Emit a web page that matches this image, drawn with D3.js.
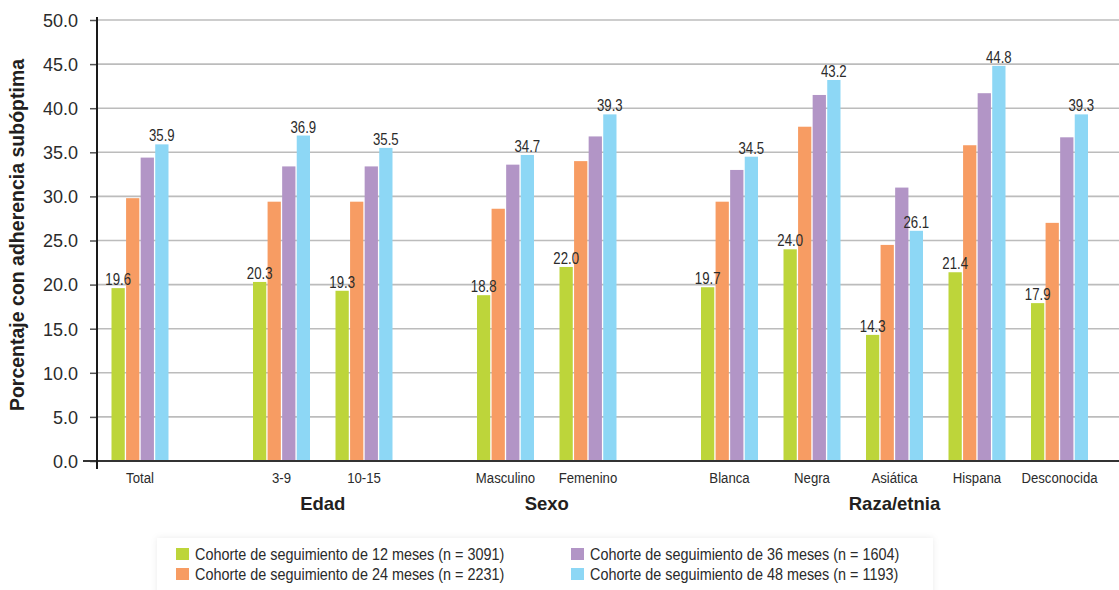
<!DOCTYPE html>
<html><head><meta charset="utf-8">
<script src="https://cdn.jsdelivr.net/npm/d3@7"></script>
<style>
html,body{margin:0;padding:0;background:#fff;}
svg{display:block;}
</style></head>
<body>
<svg id="chart" width="1119" height="590"></svg>
<script>
// ---- data ----
const categories = ["Total","3-9","10-15","Masculino","Femenino","Blanca","Negra","Asiática","Hispana","Desconocida"];
const categoryGroup = ["", "Edad","Edad","Sexo","Sexo","Raza/etnia","Raza/etnia","Raza/etnia","Raza/etnia","Raza/etnia"];
const groups = ["", "Edad", "Sexo", "Raza/etnia"];
const seriesNames = [
  "Cohorte de seguimiento de 12 meses (n = 3091)",
  "Cohorte de seguimiento de 24 meses (n = 2231)",
  "Cohorte de seguimiento de 36 meses (n = 1604)",
  "Cohorte de seguimiento de 48 meses (n = 1193)"
];
const values12 = [19.6, 20.3, 19.3, 18.8, 22.0, 19.7, 24.0, 14.3, 21.4, 17.9];
const values24 = [29.8, 29.4, 29.4, 28.6, 34.0, 29.4, 37.9, 24.5, 35.8, 27.0];
const values36 = [34.4, 33.4, 33.4, 33.6, 36.8, 33.0, 41.5, 31.0, 41.7, 36.7];
const values48 = [35.9, 36.9, 35.5, 34.7, 39.3, 34.5, 43.2, 26.1, 44.8, 39.3];
const labelledSeries = [0, 3];
const yTicks = [0,5,10,15,20,25,30,35,40,45,50];
const yTitle = "Porcentaje con adherencia subóptima";

// ---- styles / layout ----
const colors = ["#bdd53a", "#f79c63", "#b295c6", "#8dd7f5"];
const W = 1119, H = 590;
const axisX = 97, yTop = 20, yBottom = 461;
const firstCenter = 140, slotStep = 82.5, groupGap = 59;
const sans = "'Liberation Sans',Arial,Helvetica,sans-serif";

const allValues = [values12, values24, values36, values48];
const svg = d3.select("#chart");

// helper: condensed text (no narrow font installed) -> horizontal scale
function narrowText(sel, x, yy, sx) {
  sel.attr("transform", (d, i) => `translate(${x(d, i)},${yy(d, i)}) scale(${sx},1)`);
}

const y = d3.scaleLinear().domain([0, 50]).range([yBottom, yTop]);
const slot = d3.scaleLinear().domain([0, 1]).range([firstCenter, firstCenter + slotStep]);
const centerOf = i => slot(i) + groups.indexOf(categoryGroup[i]) * groupGap;
const inner = d3.scaleBand().domain(d3.range(seriesNames.length)).range([-28.5, 28.5]).paddingInner(0.09);

// gridlines
svg.append("g").selectAll("line").data(yTicks.filter(t => t > 0)).join("line")
  .attr("x1", axisX).attr("x2", W)
  .attr("y1", d => y(d)).attr("y2", d => y(d))
  .attr("stroke", "#bcbcbc").attr("stroke-width", 1.6);

// y axis
const yAxis = d3.axisLeft(y).tickValues(yTicks).tickFormat(d3.format(".1f")).tickSize(7).tickSizeOuter(0);
const gy = svg.append("g").attr("transform", `translate(${axisX},0)`).call(yAxis);
gy.select(".domain").remove();
gy.selectAll(".tick line").attr("stroke", "#555").attr("stroke-width", 1.5);
gy.selectAll(".tick text").attr("x", -19).attr("dy", "0.35em")
  .style("font-family", sans).style("font-size", "18px").attr("fill", "#2b2b2b");

// bars
const barData = [];
categories.forEach((c, i) => allValues.forEach((vals, s) => barData.push({i, s, v: vals[i]})));
svg.append("g").selectAll("rect").data(barData).join("rect")
  .attr("x", d => centerOf(d.i) + inner(d.s))
  .attr("width", inner.bandwidth())
  .attr("y", d => y(d.v))
  .attr("height", d => y(0) - y(d.v))
  .attr("fill", d => colors[d.s]);

// value labels
svg.append("g").selectAll("text").data(barData.filter(d => labelledSeries.includes(d.s))).join("text")
  .call(narrowText, d => centerOf(d.i) + inner(d.s) + inner.bandwidth() / 2, d => y(d.v) - 3, 0.8)
  .attr("text-anchor", "middle")
  .style("font-family", sans).style("font-size", "16.5px").attr("fill", "#2b2b2b")
  .text(d => d3.format(".1f")(d.v));

// baseline and vertical axis line
svg.append("line").attr("x1", 83).attr("x2", W).attr("y1", y(0)).attr("y2", y(0))
  .attr("stroke", "#333").attr("stroke-width", 2);
svg.append("line").attr("x1", axisX).attr("x2", axisX).attr("y1", 17).attr("y2", 469)
  .attr("stroke", "#1a1a1a").attr("stroke-width", 2);

// category labels
svg.append("g").selectAll("text").data(categories).join("text")
  .call(narrowText, (d, i) => centerOf(i), () => 483, 0.85)
  .attr("text-anchor", "middle")
  .style("font-family", sans).style("font-size", "15.5px").attr("fill", "#2b2b2b")
  .text(d => d);

// group labels
const groupInfo = groups.filter(g => g !== "").map(g => {
  const idx = categories.map((c, i) => i).filter(i => categoryGroup[i] === g);
  return {g, x: (centerOf(idx[0]) + centerOf(idx[idx.length - 1])) / 2};
});
svg.append("g").selectAll("text").data(groupInfo).join("text")
  .attr("x", d => d.x).attr("y", 510)
  .attr("text-anchor", "middle")
  .style("font-family", sans).style("font-size", "18.5px").style("font-weight", "bold").attr("fill", "#231f20")
  .text(d => d.g);

// y title
svg.append("text")
  .attr("transform", `translate(24,235) rotate(-90)`)
  .attr("text-anchor", "middle")
  .style("font-family", sans).style("font-size", "19.5px").style("font-weight", "bold").attr("fill", "#231f20")
  .text(yTitle);

// legend
const defs = svg.append("defs");
const f = defs.append("filter").attr("id", "sh").attr("x", "-5%").attr("y", "-30%").attr("width", "110%").attr("height", "160%");
f.append("feDropShadow").attr("dx", 0).attr("dy", 0).attr("stdDeviation", 3).attr("flood-color", "#000").attr("flood-opacity", 0.08);
svg.append("rect").attr("x", 157).attr("y", 538).attr("width", 776).attr("height", 70)
  .attr("fill", "#fff").attr("filter", "url(#sh)");
const legPos = [[176, 548], [176, 568], [571, 548], [571, 568]];
const leg = svg.append("g").selectAll("g").data(seriesNames).join("g")
  .attr("transform", (d, i) => `translate(${legPos[i][0]},${legPos[i][1]})`);
leg.append("rect").attr("width", 13).attr("height", 12).attr("fill", (d, i) => colors[i]);
leg.append("text")
  .call(narrowText, () => 19, () => 11.5, 0.9)
  .style("font-family", sans).style("font-size", "16px").attr("fill", "#2b2b2b")
  .text(d => d);
</script>
</body></html>
